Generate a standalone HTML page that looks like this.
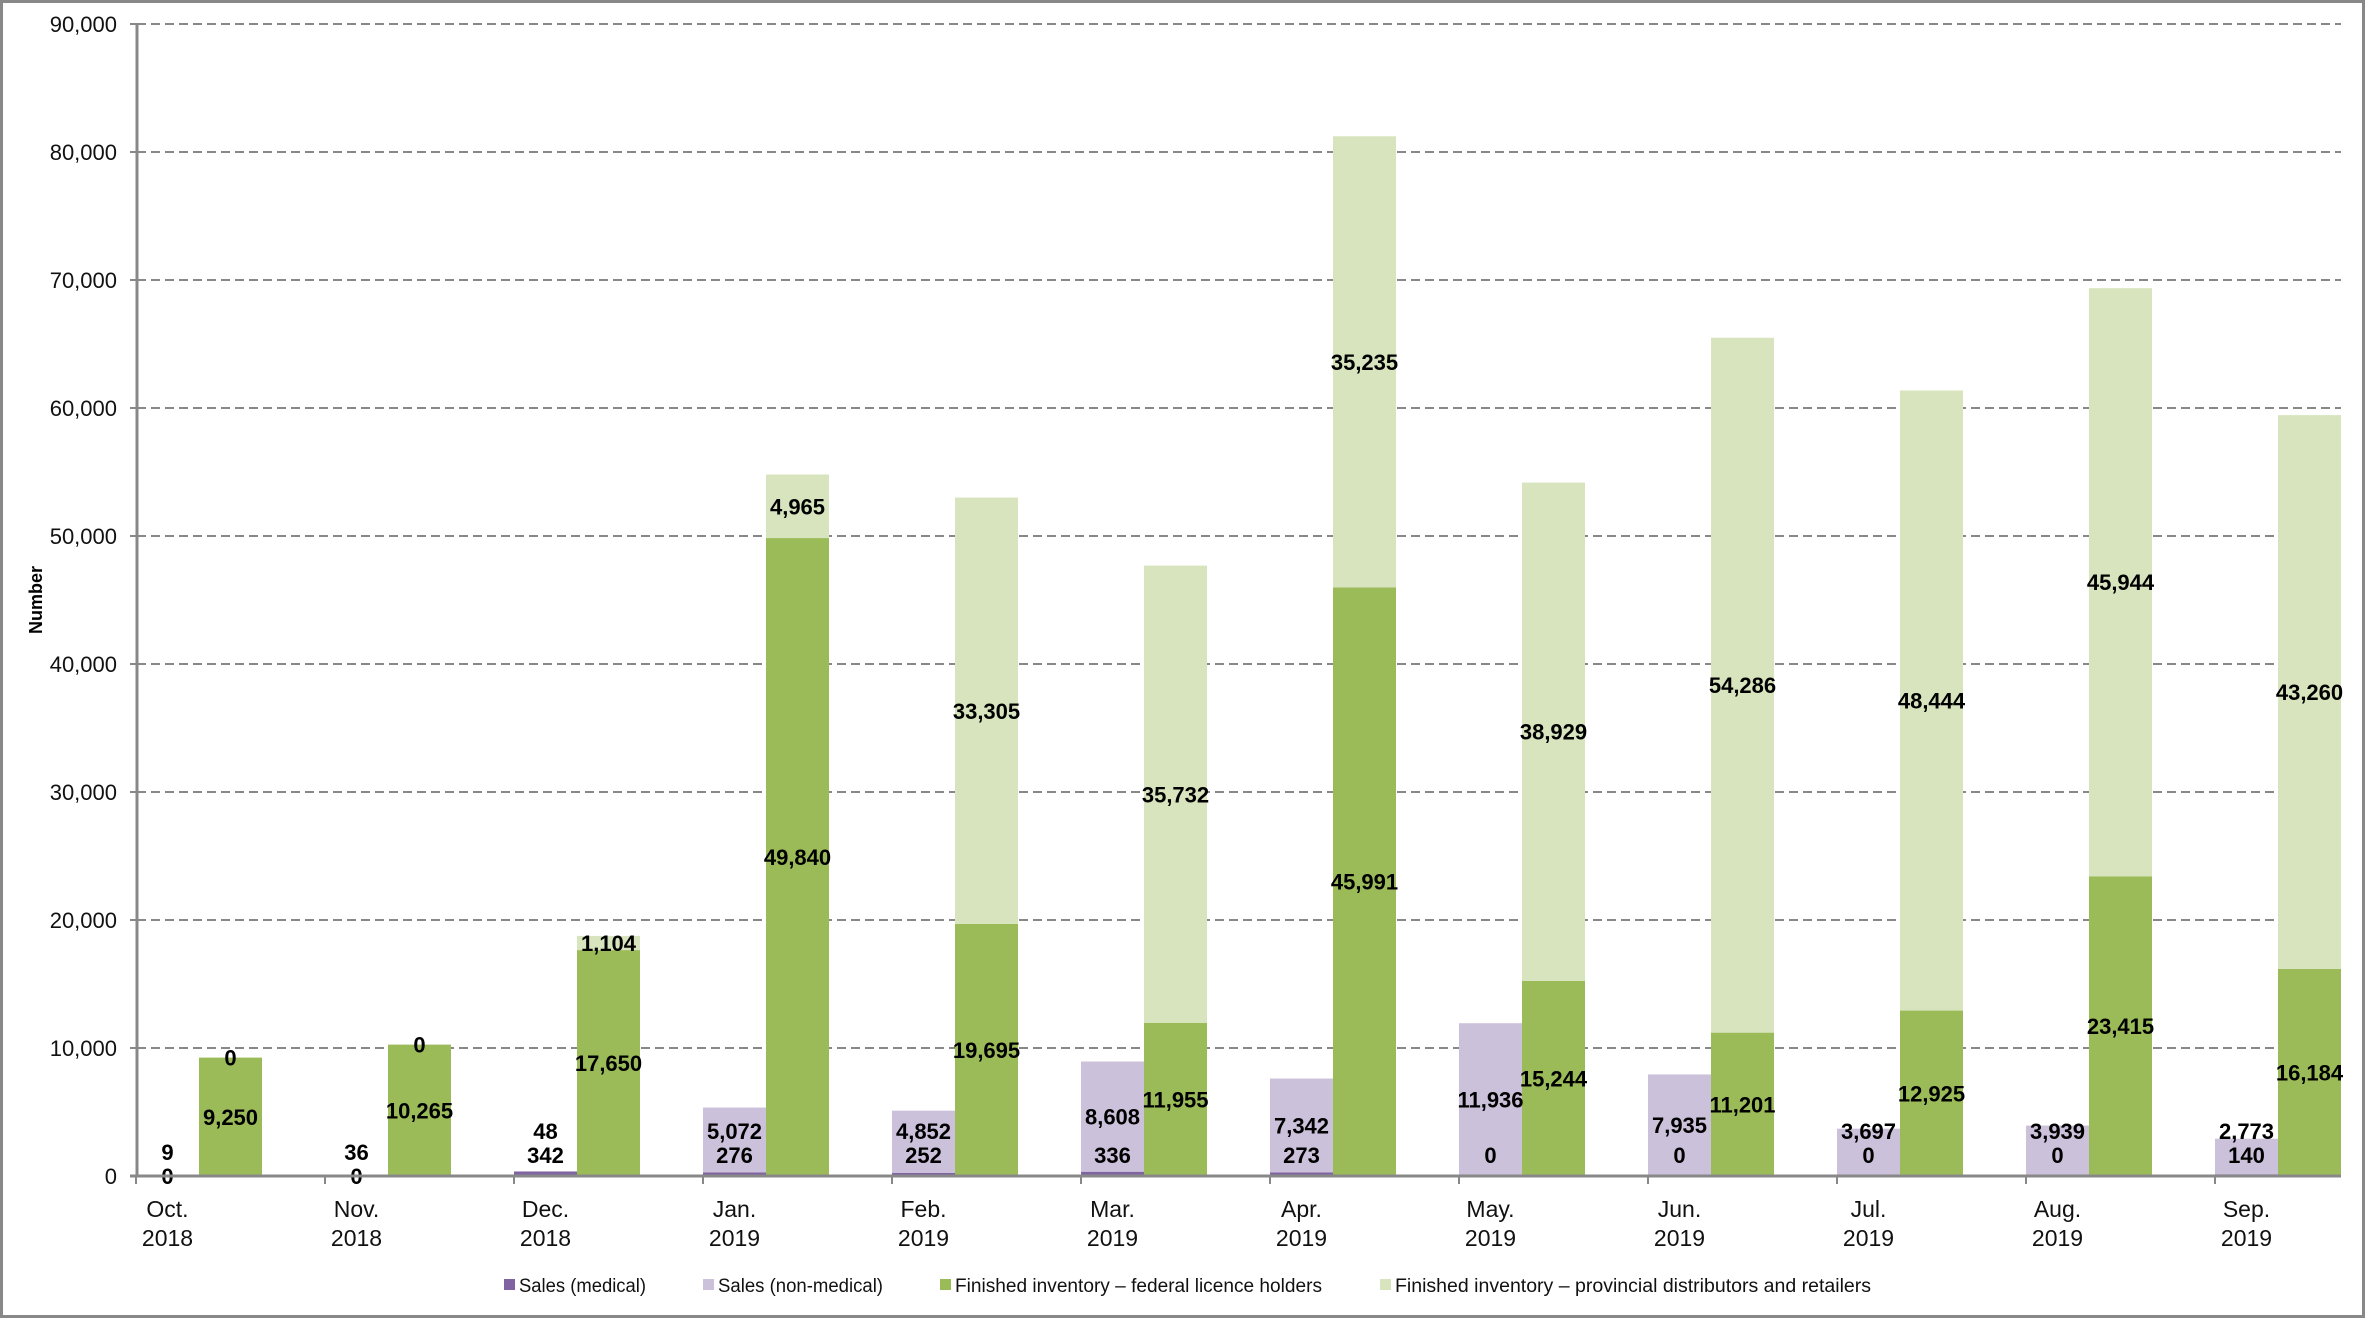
<!DOCTYPE html>
<html><head><meta charset="utf-8"><style>
html,body{margin:0;padding:0;background:#fff;}
svg{display:block;font-family:"Liberation Sans",sans-serif;}
</style></head><body>
<svg id="chart" width="2365" height="1318" viewBox="0 0 2365 1318">
<rect x="1.5" y="1.5" width="2362" height="1315" fill="#fff" stroke="#888" stroke-width="3"/>
<g id="grid"></g>
<g id="bars"></g>
<g id="labels"></g>
<g id="axes"></g>
<text x="42" y="600" transform="rotate(-90 42 600)" text-anchor="middle" font-weight="bold" font-size="18">Number</text>
<g id="legend"></g>
</svg>
<script>
const months = ["Oct.","Nov.","Dec.","Jan.","Feb.","Mar.","Apr.","May.","Jun.","Jul.","Aug.","Sep."];
const years = ["2018","2018","2018","2019","2019","2019","2019","2019","2019","2019","2019","2019"];
const salesMedical = [0,0,342,276,252,336,273,0,0,0,0,140];
const salesNonMedical = [9,36,48,5072,4852,8608,7342,11936,7935,3697,3939,2773];
const invFederal = [9250,10265,17650,49840,19695,11955,45991,15244,11201,12925,23415,16184];
const invProvincial = [0,0,1104,4965,33305,35732,35235,38929,54286,48444,45944,43260];
const yTicks = [0,10000,20000,30000,40000,50000,60000,70000,80000,90000];

const NS="http://www.w3.org/2000/svg";
const X0=137, X1=2341, Y0=1176, YTOP=24, YMAX=90000;
const step=189, bw=63, tick0=136;
const y=v=>Y0-(v/YMAX)*(Y0-YTOP);
const xc=i=>tick0+i*step;
const fmt=v=>v.toLocaleString("en-US");
function el(tag,attrs,parent,text){const e=document.createElementNS(NS,tag);for(const k in attrs)e.setAttribute(k,attrs[k]);if(text!==undefined)e.textContent=text;parent.appendChild(e);return e;}
const grid=document.getElementById("grid"),bars=document.getElementById("bars"),labels=document.getElementById("labels"),axes=document.getElementById("axes"),legend=document.getElementById("legend");

yTicks.forEach(v=>{
  if(v>0){const g=el("line",{x1:X0,x2:X1,y1:y(v),y2:y(v),stroke:"#888","stroke-width":2,"stroke-dasharray":"9,5"},grid);
  
  }
  const t=el("line",{x1:130,x2:X0,y1:y(v),y2:y(v),stroke:"#888","stroke-width":2},axes);
  
  
  const l=el("text",{x:117,y:y(v)+8,"text-anchor":"end","font-size":22,fill:"#111"},axes,fmt(v));
  
  
});
const ya=el("line",{x1:X0,x2:X0,y1:YTOP,y2:Y0,stroke:"#888","stroke-width":3},axes);


const xa=el("line",{x1:X0-7,x2:X1,y1:Y0,y2:Y0,stroke:"#888","stroke-width":3},axes);



const colors={med:"#8064A2",non:"#CCC1DA",fed:"#9BBB59",prov:"#D7E4BD"};
function seg(x,base,val,color,name){
  const r=el("rect",{x:x,y:y(base+val),width:bw,height:Math.max(0,y(base)-y(base+val)),fill:color},bars);
  
  
}
function lab(x,yy,v,name){
  const t=el("text",{x:x,y:yy+8,"text-anchor":"middle","font-size":22,"font-weight":"bold",fill:"#000"},labels,fmt(v));
  
  
}
months.forEach((m,i)=>{
  const xp=xc(i), xg=xc(i)+bw;
  seg(xp,0,salesMedical[i],colors.med,"bar-sales-medical");
  seg(xp,salesMedical[i],salesNonMedical[i],colors.non,"bar-sales-non-medical");
  seg(xg,0,invFederal[i],colors.fed,"bar-inventory-federal");
  seg(xg,invFederal[i],invProvincial[i],colors.prov,"bar-inventory-provincial");
  const small=salesNonMedical[i]<1000&&salesMedical[i]===0;
  const medY=small?y(salesMedical[i]/2):Math.min(y(salesMedical[i]/2),Y0-21);
  lab(xp+bw/2,medY,salesMedical[i],"label-sales-medical");
  let nonY=y(salesMedical[i]+salesNonMedical[i]/2);
  nonY=Math.min(nonY,medY-24);
  lab(xp+bw/2,nonY,salesNonMedical[i],"label-sales-non-medical");
  lab(xg+bw/2,y(invFederal[i]/2),invFederal[i],"label-inventory-federal");
  lab(xg+bw/2,y(invFederal[i]+invProvincial[i]/2),invProvincial[i],"label-inventory-provincial");
  const tk=el("line",{x1:xp,x2:xp,y1:Y0,y2:Y0+8,stroke:"#888","stroke-width":2},axes);
  
  
  const c=el("text",{x:xp+bw/2,y:1217,"text-anchor":"middle","font-size":23,fill:"#111"},axes,m);
  
  
  const yv=el("text",{x:xp+bw/2,y:1246,"text-anchor":"middle","font-size":23,fill:"#111"},axes,years[i]);
  
  
});
const legendItems=[["Sales (medical)",colors.med,504,127],["Sales (non-medical)",colors.non,703,165],["Finished inventory – federal licence holders",colors.fed,940,367],["Finished inventory – provincial distributors and retailers",colors.prov,1380,476]];
legendItems.forEach(([t,c,x,w])=>{
  const g=el("g",{},legend);
  
  
  el("rect",{x:x,y:1279,width:11,height:11,fill:c},g);
  el("text",{x:x+15,y:1292,"font-size":19,fill:"#111",textLength:w,lengthAdjust:"spacingAndGlyphs"},g,t);
});
</script>
</body></html>
